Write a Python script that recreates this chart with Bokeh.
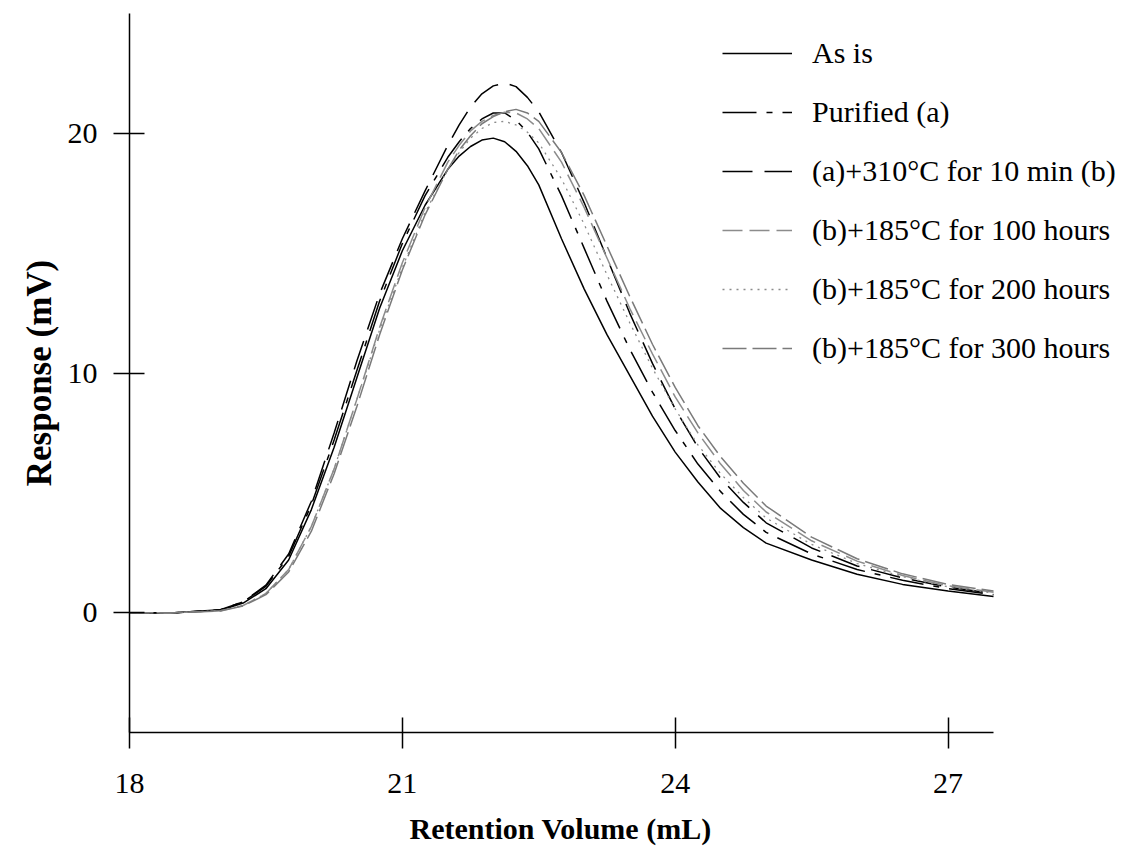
from bokeh.plotting import figure
from bokeh.models import Legend, LegendItem, FixedTicker, Range1d, Title
from bokeh.embed import file_html
from bokeh.resources import INLINE

retention = [18.0, 18.5, 19.0, 19.25, 19.5, 19.75, 20.0, 20.25, 20.5, 20.75, 21.0, 21.25,
             21.5, 21.625, 21.75, 21.875, 22.0, 22.125, 22.25, 22.375, 22.5, 22.75, 23.0,
             23.25, 23.5, 23.75, 24.0, 24.25, 24.5, 24.75, 25.0, 25.5, 26.0, 26.5, 27.0, 27.5]

as_is = [0, 0, 0.1, 0.4, 1.0, 2.2, 4.3, 6.9, 9.8, 12.7, 15.1, 17.0,
         18.5, 19.05, 19.45, 19.72, 19.8, 19.65, 19.25, 18.65, 17.85, 15.6, 13.5,
         11.6, 9.9, 8.2, 6.7, 5.45, 4.35, 3.55, 2.9, 2.2, 1.6, 1.18, 0.9, 0.67]

purified = [0, 0, 0.12, 0.45, 1.1, 2.35, 4.5, 7.2, 10.1, 13.0, 15.4, 17.4,
            19.0, 19.65, 20.2, 20.6, 20.85, 20.85, 20.55, 20.05, 19.35, 17.4, 15.2,
            13.0, 11.0, 9.2, 7.6, 6.2, 5.05, 4.1, 3.35, 2.45, 1.8, 1.35, 1.0, 0.75]

heated_b = [0, 0, 0.12, 0.45, 1.15, 2.45, 4.65, 7.5, 10.5, 13.3, 15.6, 17.6,
            19.5, 20.35, 21.1, 21.65, 21.98, 22.1, 21.95, 21.5, 20.9, 19.2, 17.1,
            14.8, 12.5, 10.4, 8.5, 6.9, 5.6, 4.6, 3.75, 2.7, 1.95, 1.45, 1.07, 0.8]

aged_100 = [0, 0, 0.08, 0.3, 0.8, 1.8, 3.6, 6.0, 8.9, 11.9, 14.6, 16.9,
            18.8, 19.5, 20.1, 20.5, 20.75, 20.88, 20.85, 20.6, 20.2, 18.8, 16.9,
            14.8, 12.7, 10.8, 9.0, 7.5, 6.2, 5.1, 4.2, 3.0, 2.15, 1.55, 1.12, 0.85]

aged_200 = [0, 0, 0.08, 0.3, 0.8, 1.8, 3.6, 6.0, 8.9, 11.8, 14.4, 16.7,
            18.5, 19.2, 19.8, 20.2, 20.45, 20.5, 20.35, 20.05, 19.6, 18.1, 16.2,
            14.1, 12.1, 10.2, 8.5, 7.0, 5.8, 4.8, 3.95, 2.85, 2.05, 1.5, 1.08, 0.82]

aged_300 = [0, 0, 0.07, 0.28, 0.75, 1.7, 3.4, 5.8, 8.6, 11.6, 14.3, 16.6,
            18.5, 19.3, 19.9, 20.4, 20.7, 20.9, 21.0, 20.85, 20.5, 19.2, 17.4,
            15.3, 13.2, 11.2, 9.4, 7.8, 6.5, 5.4, 4.45, 3.15, 2.25, 1.62, 1.18, 0.9]

labels = ["As is", "Purified (a)", "(a)+310°C for 10 min (b)",
          "(b)+185°C for 100 hours", "(b)+185°C for 200 hours", "(b)+185°C for 300 hours"]
x_ticks = [18, 21, 24, 27]
y_ticks = [0, 10, 20]
x_title = "Retention Volume (mL)"
y_title = "Response (mV)"

FONT = "Liberation Serif"
X_MIN, X_AXIS_END = 18, 27.5
PX_PER_UNIT = 864 / 9.5
X_VIEW_END = X_MIN + 1005 / PX_PER_UNIT

p = figure(width=1134, height=859, output_backend="svg", toolbar_location=None,
           x_range=Range1d(X_MIN, X_VIEW_END), y_range=Range1d(-5, 25),
           min_border_left=129, min_border_right=0, min_border_top=13, min_border_bottom=127)
p.outline_line_color = None
p.xgrid.visible = False
p.ygrid.visible = False
p.background_fill_color = "white"
p.border_fill_color = "white"

styles = [
    dict(line_color="black", line_width=1.5, line_dash="solid"),
    dict(line_color="black", line_width=1.5, line_dash="34 10 6 10"),
    dict(line_color="black", line_width=1.5, line_dash="30 12"),
    dict(line_color="#8c8c8c", line_width=1.5, line_dash="20 7"),
    dict(line_color="#8c8c8c", line_width=1.3, line_dash="2 5"),
    dict(line_color="#7a7a7a", line_width=1.5, line_dash="24 6"),
]
series = [as_is, purified, heated_b, aged_100, aged_200, aged_300]

items = []
for ys, st, lab in zip(series, styles, labels):
    r = p.line(retention, ys, **st)
    items.append(LegendItem(label=lab, renderers=[r]))

legend = Legend(items=items, location=(593, 364), padding=0, margin=0,
                border_line_color=None, background_fill_alpha=0,
                glyph_width=70, glyph_height=40, label_height=40, spacing=19,
                label_standoff=20, label_text_font=FONT, label_text_font_size="30px",
                label_text_color="black")
p.add_layout(legend)

for ax in (p.xaxis[0], p.yaxis[0]):
    ax.axis_line_color = "black"
    ax.axis_line_width = 1.5
    ax.major_tick_line_color = "black"
    ax.major_tick_line_width = 1.5
    ax.major_tick_in = 15
    ax.major_tick_out = 16
    ax.minor_tick_line_color = None
    ax.major_label_text_font = FONT
    ax.major_label_text_font_size = "30px"
    ax.major_label_text_color = "black"
    ax.axis_label_text_font = FONT
    ax.axis_label_text_font_style = "bold"
    ax.axis_label_text_color = "black"

p.xaxis[0].ticker = FixedTicker(ticks=x_ticks)
p.yaxis[0].ticker = FixedTicker(ticks=y_ticks)
p.xaxis[0].bounds = (X_MIN, X_AXIS_END)
p.yaxis[0].axis_label = y_title
p.yaxis[0].axis_label_text_font_size = "35px"
p.xaxis[0].major_label_standoff = 25
p.yaxis[0].major_label_standoff = 16
p.yaxis[0].axis_label_standoff = 6

title = Title(text=x_title, align="left", offset=280, text_font=FONT,
              text_font_size="30px", text_font_style="bold", text_color="black",
              standoff=29)
p.add_layout(title, "below")

open("out.html", "w").write(file_html(p, INLINE))
